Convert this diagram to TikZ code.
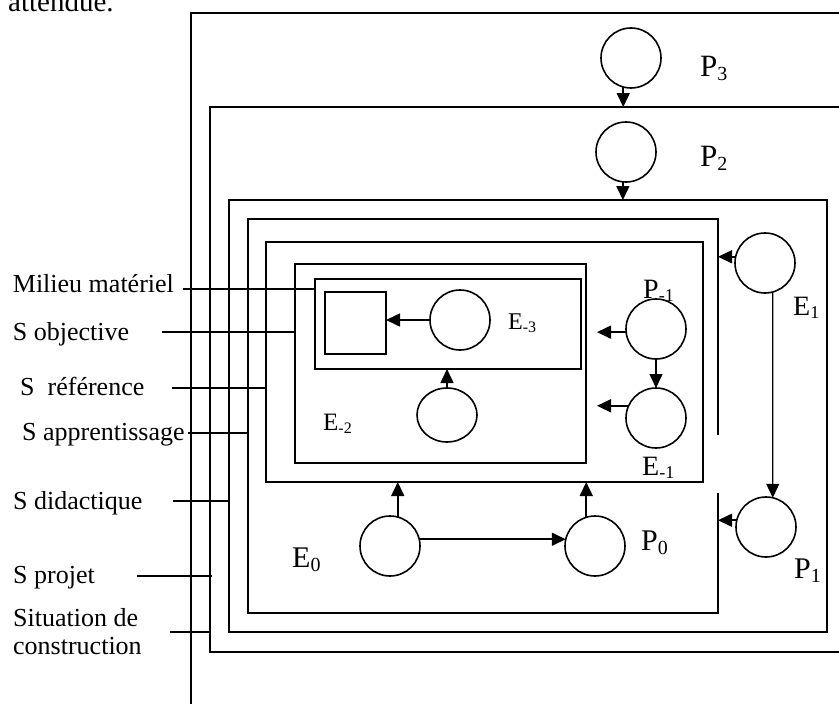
\documentclass[tikz,border=0pt]{standalone}
\usepackage{fontspec}
\setmainfont{Liberation Serif}
\usetikzlibrary{arrows.meta,shapes.geometric}
\newcommand\lblsub[4]{{\fontsize{#1pt}{#1pt}\selectfont #3\raisebox{-0.14em}{\fontsize{#2pt}{#2pt}\selectfont #4}}}
\begin{document}
\begin{tikzpicture}[x=1pt,y=-1pt,
  boxn/.style={draw,rectangle,inner sep=0pt,outer sep=0pt,line width=1.6pt},
  ghost/.style={rectangle,inner sep=0pt,outer sep=0pt},
  circ/.style={draw,circle,minimum size=60pt,inner sep=0pt,outer sep=0pt,line width=1.6pt},
  oval/.style={draw,ellipse,minimum width=60pt,minimum height=54pt,inner sep=0pt,outer sep=0pt,line width=1.6pt},
  arr/.style={line width=1.6pt,-{Triangle[length=14pt,width=13pt]}},
  arrthin/.style={line width=1.2pt,-{Triangle[length=14pt,width=13pt]}},
  boxline/.style={line width=1.6pt},
  lead/.style={line width=1.4pt},
  side/.style={anchor=base west,inner sep=0pt,font=\fontsize{26pt}{28pt}\selectfont,align=left},
  lab/.style={anchor=base west,inner sep=0pt}]
\useasboundingbox (0,0) rectangle (839,704);
\clip (0,0) rectangle (839,704);

% text at the top (cut off)
\node[lab,font=\fontsize{29pt}{29pt}\selectfont] (att) at (8,12) {attendue.};

% nested boxes
\node[boxn,anchor=north west,minimum width=800pt,minimum height=800pt] (r1) at (191,13) {};
\node[boxn,anchor=north west,minimum width=700pt,minimum height=545pt] (r2) at (210,107) {};
\node[boxn,anchor=north west,minimum width=598pt,minimum height=432pt] (r3) at (229,200) {};
\node[ghost,anchor=north west,minimum width=470pt,minimum height=394pt] (r4) at (248,219) {};
\draw[boxline] (r4.north east) ++(0,216) -- (r4.north east) -- (r4.north west)
  -- (r4.south west) -- (r4.south east) -- ++(0,-120);
\node[boxn,anchor=north west,minimum width=437pt,minimum height=240pt] (r4b) at (266,242) {};
\node[boxn,anchor=north west,minimum width=291pt,minimum height=199pt] (r5) at (295,264) {};
\node[boxn,anchor=north west,minimum width=266pt,minimum height=90pt] (r6) at (315,279) {};
\node[boxn,anchor=north west,minimum width=61pt,minimum height=62pt] (sq) at (325,292) {};

% circles
\node[circ] (p3) at (631,58) {};
\node[circ] (p2) at (626,152) {};
\node[circ] (e1) at (765,263) {};
\node[circ] (p1) at (766,527) {};
\node[circ] (pm1) at (656,329) {};
\node[circ] (em1) at (656,418) {};
\node[circ] (em3) at (460,320) {};
\node[oval] (em2c) at (447,415) {};
\node[circ] (e0) at (390,546) {};
\node[circ] (p0) at (595,546) {};

% arrows
\draw[arr] (p3.-105) -- (p3.-105 |- r2.north);
\draw[arr] (p2.-96) -- (p2.-96 |- r3.north);
\draw[arr] (e1.168) -- (e1.168 -| r4.east);
\draw[arrthin] (e1.-75) -- (p1.77);
\draw[arr] (p1.167) -- (p1.167 -| r4.east);
\draw[arr] (pm1.186) -- ([xshift=11pt]pm1.186 -| r5.east);
\draw[arr] (em1.156) -- ([xshift=11pt]em1.156 -| r5.east);
\draw[arr] (pm1.south) -- (em1.north);
\draw[arr] (em3.west) -- (em3.west -| sq.east);
\draw[arr] (em2c.north) -- (em2c.north |- r6.south);
\draw[arr] (e0.75) -- (e0.75 |- r4b.south);
\draw[arr] (p0.107) -- (p0.107 |- r4b.south);
\draw[arr] (e0.13) -- (p0.167);

% labels of circles
\node[lab] (lp3) at (700,76) {\lblsub{31}{20}{P}{3}};
\node[lab] (lp2) at (700,166) {\lblsub{31}{20}{P}{2}};
\node[lab] (le1) at (793,315) {\lblsub{28}{18}{E}{1}};
\node[lab] (lpm1) at (643,298) {\lblsub{28}{18}{P}{-1}};
\node[lab] (lem1) at (642,475) {\lblsub{28}{18}{E}{-1}};
\node[lab] (lem3) at (508,329) {\lblsub{24}{16}{E}{-3}};
\node[lab] (lem2) at (323,430) {\lblsub{25}{16}{E}{-2}};
\node[lab] (le0) at (292,567) {\lblsub{30}{20}{E}{0}};
\node[lab] (lp0) at (641,550) {\lblsub{30}{20}{P}{0}};
\node[lab] (lp1) at (794,578) {\lblsub{30}{20}{P}{1}};

% side labels
\node[side] (lm) at (12.7,292) {Milieu matériel};
\node[side] (so) at (12.7,340) {S objective};
\node[side] (sr) at (20,395) {S\ \ référence};
\node[side] (sa) at (22,440) {S apprentissage};
\node[side] (sd) at (13,509) {S didactique};
\node[side] (sp) at (13,583) {S projet};
\node[side] (sc) at (13,654) {Situation de\\construction};

% leader lines
\coordinate (lmA) at (183,289);
\coordinate (soA) at (162,332);
\coordinate (srA) at (172,388);
\coordinate (saA) at (188,433);
\coordinate (sdA) at (173,501);
\coordinate (spA) at (137,576);
\coordinate (scA) at (170,632);
\draw[lead] (lmA) -- (lmA -| r6.west);
\draw[lead] (soA) -- (soA -| r5.west);
\draw[lead] (srA) -- (srA -| r4b.west);
\draw[lead] (saA) -- (saA -| r4.west);
\draw[lead] (sdA) -- (sdA -| r3.west);
\draw[lead] (spA) -- ([xshift=2pt]spA -| r2.west);
\draw[lead] (scA) -- (scA -| r2.west);
\end{tikzpicture}
\end{document}
